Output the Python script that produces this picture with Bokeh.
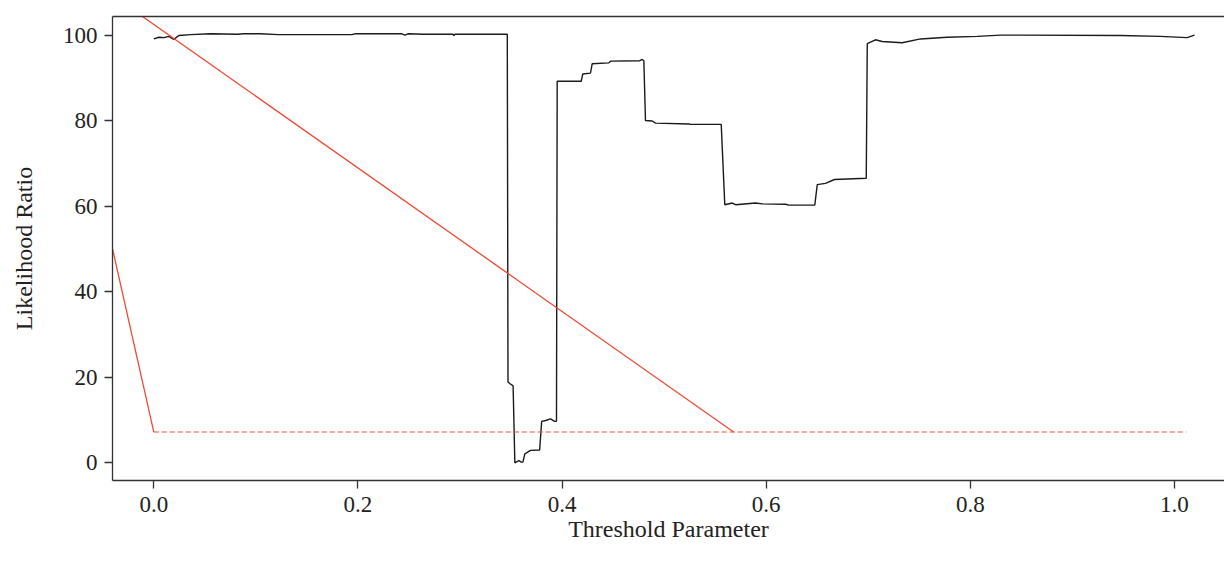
from bokeh.plotting import figure
from bokeh.models import Range1d, FixedTicker, PrintfTickFormatter, LinearAxis
from bokeh.embed import file_html
from bokeh.resources import INLINE

# Likelihood ratio curve (black)
lr_x = [0.000, 0.005, 0.0098, 0.0147, 0.0196, 0.0245, 0.036, 0.0556, 0.0817, 0.088, 0.104,
        0.122, 0.194, 0.197, 0.243, 0.246, 0.249, 0.264, 0.293, 0.294, 0.295, 0.3463,
        0.347, 0.349, 0.352, 0.3537, 0.3576, 0.360, 0.3616, 0.3635, 0.369, 0.378,
        0.380, 0.3838, 0.3887, 0.3926, 0.3945, 0.3952, 0.4187, 0.4203, 0.4278, 0.4295,
        0.4458, 0.4474, 0.4761, 0.4785, 0.4801, 0.4817, 0.4883, 0.4915, 0.5241, 0.526,
        0.5559, 0.5594, 0.5667, 0.570, 0.5895, 0.596, 0.6189, 0.6221, 0.6476, 0.650,
        0.658, 0.6669, 0.698, 0.699, 0.707, 0.7136, 0.7332, 0.7512, 0.7773, 0.8067,
        0.8295, 0.849, 0.947, 0.986, 1.0124, 1.0196]
lr_y = [99.2, 99.6, 99.5, 99.8, 99.1, 100.0, 100.2, 100.4, 100.3, 100.4, 100.4,
        100.2, 100.2, 100.4, 100.4, 100.1, 100.4, 100.3, 100.3, 100.0, 100.3, 100.3,
        18.9, 18.5, 18.0, 0.0, 0.5, 0.15, 0.15, 2.1, 2.9, 3.0,
        9.7, 9.9, 10.3, 9.7, 9.7, 89.3, 89.3, 91.0, 91.2, 93.4,
        93.6, 94.0, 94.1, 94.4, 94.1, 80.1, 80.0, 79.5, 79.3, 79.2,
        79.2, 60.4, 60.8, 60.4, 60.8, 60.6, 60.5, 60.3, 60.35, 65.1,
        65.4, 66.3, 66.6, 98.1, 99.0, 98.6, 98.3, 99.2, 99.6, 99.8,
        100.1, 100.1, 100.0, 99.8, 99.5, 100.1]

# Red reference lines
red1_x = [-0.0405, 0.0]
red1_y = [50.1, 7.2]
red2_x = [-0.04, 0.568]
red2_y = [109.3, 7.2]
crit_x = [0.0, 1.0117]
crit_y = [7.2, 7.2]

x_ticks = [0.0, 0.2, 0.4, 0.6, 0.8, 1.0]
y_ticks = [0, 20, 40, 60, 80, 100]

FONT = "Liberation Serif"
TXT = "#222222"
RED = "#F04A35"

p = figure(width=1224, height=553, output_backend="svg", toolbar_location=None,
           x_range=Range1d(-0.0405, 1.049), y_range=Range1d(-4.14, 104.45),
           min_border_left=112, min_border_right=0, min_border_top=16, min_border_bottom=73,
           x_axis_label="Threshold Parameter", y_axis_label="Likelihood Ratio")
p.outline_line_color = None
p.grid.visible = False

p.line(lr_x, lr_y, line_color="#1a1a1a", line_width=1.4)
p.line(red1_x, red1_y, line_color=RED, line_width=1.3)
p.line(red2_x, red2_y, line_color=RED, line_width=1.3)
p.line(crit_x, crit_y, line_color=RED, line_width=1.1, line_dash="5 3")

for ax in (p.xaxis[0], p.yaxis[0]):
    ax.axis_line_color = "#333333"
    ax.axis_line_width = 1.3
    ax.major_tick_line_color = "#333333"
    ax.major_tick_line_width = 1.3
    ax.major_tick_out = 8
    ax.major_tick_in = 0
    ax.minor_tick_out = 0
    ax.minor_tick_in = 0
    ax.major_label_text_font = FONT
    ax.major_label_text_font_size = "23px"
    ax.major_label_text_color = TXT
    ax.axis_label_text_font = FONT
    ax.axis_label_text_font_size = "24px"
    ax.axis_label_text_font_style = "normal"
    ax.axis_label_text_color = TXT

p.xaxis[0].ticker = FixedTicker(ticks=x_ticks)
p.xaxis[0].formatter = PrintfTickFormatter(format="%.1f")
p.xaxis[0].major_label_standoff = 8
p.xaxis[0].axis_label_standoff = 1
p.yaxis[0].ticker = FixedTicker(ticks=y_ticks)
p.yaxis[0].major_label_standoff = 7
p.yaxis[0].axis_label_standoff = 23

top = LinearAxis(ticker=FixedTicker(ticks=[]), major_tick_out=0, major_tick_in=0,
                 minor_tick_out=0, minor_tick_in=0, major_label_text_font_size="0px",
                 axis_line_color="#333333", axis_line_width=1.3)
p.add_layout(top, "above")

open("out.html", "w").write(file_html(p, INLINE))
